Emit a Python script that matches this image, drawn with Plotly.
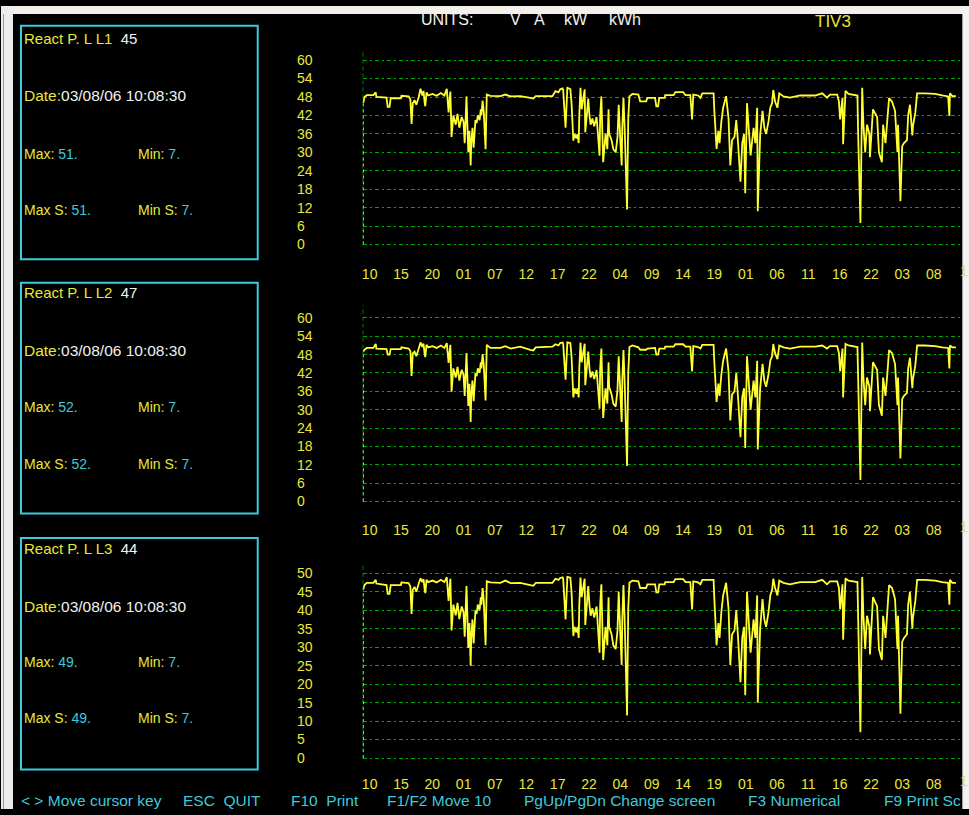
import plotly.graph_objects as go

W, H = 969, 815

# ---------------- data ----------------
time_h = [0.1, 0.3, 0.7, 1.8, 2.2, 2.3, 4.0, 4.2, 4.5, 4.7,
          6.4, 6.5, 7.7, 8.0, 8.2, 8.4, 8.7, 9.0, 9.4, 9.7,
          10.0, 10.2, 10.4, 10.5, 10.7, 11.0, 11.7, 12.4, 13.1, 13.7,
          14.1, 14.4, 14.7, 14.9, 15.2, 15.6, 15.9, 16.2, 16.6, 16.9,
          17.1, 17.2, 17.4, 17.6, 17.7, 17.9, 18.1, 18.2, 18.4, 18.6,
          18.7, 18.9, 19.1, 19.3, 19.6, 19.8, 19.9, 20.1, 20.3, 20.4,
          20.6, 20.8, 21.4, 23.1, 23.9, 24.8, 26.4, 28.1, 28.6, 29.0,
          31.8, 32.3, 32.8, 33.1, 33.5, 33.6, 34.0, 34.3, 34.8, 35.0,
          35.3, 35.5, 35.8, 36.0, 36.2, 36.3, 36.5, 36.7, 37.0, 37.2,
          37.3, 37.7, 37.8, 38.0, 38.2, 38.5, 38.8, 39.2, 39.5, 39.7,
          39.8, 40.0, 40.3, 40.5, 40.7, 41.0, 41.2, 41.3, 41.7, 42.0,
          42.4, 42.7, 42.9, 43.2, 43.4, 43.5, 43.7, 43.9, 44.0, 44.3,
          44.5, 44.7, 45.2, 46.2, 46.5, 47.5, 47.7, 49.0, 49.2, 49.5,
          49.7, 50.6, 50.7, 52.1, 52.4, 53.7, 54.1, 54.9, 55.2, 55.4,
          56.2, 56.6, 56.9, 58.8, 58.9, 59.3, 59.6, 59.8, 60.1, 60.4,
          60.9, 61.3, 61.6, 61.9, 62.3, 62.6, 62.9, 63.3, 63.6, 63.9,
          64.1, 64.4, 65.0, 65.5, 65.8, 66.1, 66.2, 66.6, 67.0, 67.3,
          67.6, 68.0, 68.3, 68.6, 68.8, 69.1, 69.5, 69.8, 70.5, 71.6,
          73.3, 75.8, 77.0, 77.8, 78.3, 79.5, 79.8, 80.0, 80.4, 80.5,
          80.9, 81.4, 82.9, 83.0, 83.4, 83.7, 83.9, 84.2, 84.5, 84.9,
          85.0, 85.5, 86.2, 86.5, 87.0, 87.2, 87.6, 87.9, 88.2, 88.7,
          89.2, 89.6, 89.7, 90.1, 90.4, 90.7, 91.2, 91.4, 91.7, 92.1,
          92.2, 92.6, 92.9, 94.2, 95.9, 97.1, 98.1, 98.3, 98.4, 98.8,
          99.4]

react_l1 = [46.0, 48.0, 48.6, 48.6, 49.5, 48.0, 47.8, 44.8, 44.8, 47.6,
            47.6, 48.4, 48.2, 47.2, 39.2, 46.0, 47.0, 45.5, 48.0, 50.7,
            48.5, 50.0, 46.0, 45.0, 49.5, 48.5, 49.0, 48.4, 49.3, 48.5,
            50.7, 43.0, 49.8, 35.0, 42.0, 39.0, 42.5, 38.0, 41.5, 40.0,
            33.0, 39.0, 48.2, 36.0, 30.0, 37.0, 25.7, 33.0, 38.0, 31.5,
            36.0, 40.5, 39.5, 42.0, 40.5, 44.0, 42.0, 46.8, 43.0, 38.0,
            31.0, 48.8, 48.4, 48.3, 48.8, 48.2, 48.3, 47.7, 47.5, 48.3,
            48.3, 49.9, 49.5, 50.5, 50.8, 50.3, 38.0, 51.0, 50.6, 46.0,
            33.8, 36.0, 34.5, 36.0, 33.0, 42.0, 51.0, 44.0, 47.5, 50.5,
            36.5, 44.0, 47.5, 42.0, 39.0, 41.0, 38.5, 41.5, 33.0, 28.9,
            42.0, 48.2, 26.8, 33.0, 36.0, 31.0, 44.0, 36.0, 34.0, 31.0,
            30.0, 35.0, 45.5, 33.0, 25.7, 38.0, 47.7, 38.0, 30.0, 11.4,
            41.0, 48.2, 49.0, 48.8, 46.6, 46.6, 47.7, 47.7, 45.0, 45.0,
            47.7, 47.7, 48.6, 48.6, 49.6, 49.6, 48.6, 48.6, 40.7, 48.8,
            48.5, 47.7, 49.2, 49.2, 44.5, 31.1, 37.0, 33.0, 40.0, 44.5,
            48.3, 41.0, 25.7, 34.0, 35.0, 40.5, 33.0, 20.4, 33.0, 36.0,
            16.7, 46.0, 29.0, 38.0, 33.0, 44.5, 10.8, 35.5, 43.5, 38.0,
            36.0, 40.0, 44.5, 46.0, 50.3, 46.5, 44.5, 49.2, 48.2, 47.8,
            48.5, 48.5, 49.2, 47.8, 48.8, 48.8, 46.5, 40.7, 47.7, 32.6,
            50.0, 49.0, 48.5, 37.5, 7.0, 51.0, 39.0, 30.0, 39.0, 36.0,
            28.4, 44.0, 41.5, 30.0, 26.8, 39.0, 33.0, 40.0, 47.7, 46.5,
            43.5, 30.0, 39.0, 14.1, 32.0, 33.0, 34.0, 42.0, 45.5, 35.5,
            38.5, 43.0, 49.2, 49.2, 49.0, 48.5, 48.2, 41.8, 49.2, 48.3,
            48.3]

react_l2 = [49.0, 49.6, 50.2, 50.2, 51.5, 50.0, 49.8, 48.0, 48.0, 49.8,
            49.8, 50.4, 50.0, 49.2, 41.0, 48.4, 49.0, 47.5, 50.0, 52.0,
            50.5, 51.6, 48.0, 47.2, 51.2, 50.4, 50.8, 50.2, 51.0, 50.2,
            51.8, 45.3, 51.2, 35.9, 43.5, 40.5, 44.0, 39.5, 43.0, 41.5,
            34.5, 40.5, 48.5, 37.5, 31.2, 38.5, 26.0, 34.5, 39.5, 32.8,
            37.5, 42.0, 41.0, 43.5, 42.0, 45.5, 43.5, 48.2, 44.5, 39.5,
            33.0, 51.2, 50.2, 50.2, 50.8, 50.0, 50.6, 49.6, 49.4, 50.4,
            50.6, 51.4, 51.0, 51.8, 52.0, 51.5, 39.8, 52.0, 51.8, 47.5,
            34.0, 37.0, 35.2, 37.0, 34.0, 43.5, 52.0, 45.5, 49.5, 51.6,
            38.0, 45.5, 49.0, 43.5, 40.5, 42.5, 40.0, 43.0, 34.0, 30.3,
            43.5, 50.0, 27.3, 34.0, 37.0, 32.0, 45.5, 37.5, 35.0, 32.0,
            31.0, 36.5, 47.5, 34.5, 26.0, 39.5, 49.5, 39.0, 31.0, 11.6,
            42.0, 50.5, 51.0, 50.4, 49.6, 49.6, 50.0, 50.2, 48.0, 48.0,
            50.0, 50.0, 50.6, 50.6, 51.4, 51.4, 50.6, 50.6, 42.5, 50.8,
            50.5, 50.0, 51.2, 51.2, 46.5, 32.5, 38.5, 34.5, 41.5, 46.0,
            50.0, 42.5, 26.5, 35.0, 36.0, 42.0, 34.0, 21.0, 34.0, 37.0,
            17.5, 47.5, 30.0, 39.5, 34.0, 46.0, 17.0, 37.0, 45.0, 39.5,
            37.5, 41.5, 46.0, 47.5, 51.5, 48.5, 46.5, 51.0, 50.4, 50.0,
            50.6, 50.6, 51.0, 50.0, 50.8, 50.8, 48.5, 42.5, 50.0, 34.0,
            51.5, 51.0, 50.5, 39.0, 7.0, 52.0, 40.5, 31.5, 40.5, 37.5,
            29.5, 45.5, 43.0, 31.5, 28.0, 40.5, 34.5, 41.5, 49.5, 48.5,
            45.0, 31.5, 40.5, 14.0, 33.5, 34.5, 35.5, 43.5, 47.0, 37.0,
            40.0, 44.5, 51.0, 51.0, 50.8, 50.4, 50.2, 43.5, 51.0, 50.4,
            50.4]

react_l3 = [45.5, 46.8, 47.4, 47.4, 48.2, 47.2, 46.8, 44.4, 44.4, 46.8,
            46.8, 47.5, 47.3, 46.4, 39.0, 45.5, 46.3, 45.0, 47.2, 48.6,
            47.6, 48.4, 45.5, 44.6, 48.2, 47.6, 48.0, 47.5, 48.2, 47.6,
            48.9, 42.5, 48.5, 34.5, 41.5, 38.6, 42.0, 37.6, 41.0, 39.5,
            32.8, 38.5, 46.5, 35.6, 29.8, 36.5, 25.0, 32.5, 37.5, 31.0,
            35.5, 40.0, 39.0, 41.5, 40.0, 43.5, 41.5, 46.0, 42.5, 37.5,
            30.5, 47.8, 47.5, 47.4, 48.0, 47.3, 47.4, 46.8, 46.6, 47.4,
            47.4, 48.5, 48.2, 48.7, 48.9, 48.5, 37.5, 49.0, 48.8, 45.0,
            33.0, 35.5, 34.0, 35.5, 32.5, 41.5, 48.8, 43.5, 46.5, 48.5,
            36.0, 43.5, 46.5, 41.5, 38.5, 40.5, 38.0, 41.0, 32.5, 28.5,
            41.5, 47.0, 26.5, 32.5, 35.5, 30.5, 43.5, 35.5, 33.5, 30.5,
            29.5, 34.5, 45.0, 32.5, 25.2, 37.5, 46.8, 37.5, 29.5, 11.5,
            40.5, 47.4, 48.0, 47.8, 46.0, 46.0, 47.0, 47.0, 44.8, 44.8,
            47.0, 47.0, 47.6, 47.6, 48.4, 48.4, 47.6, 47.6, 40.2, 47.8,
            47.5, 47.0, 48.2, 48.2, 44.0, 30.5, 36.5, 32.5, 39.5, 44.0,
            47.4, 40.5, 25.2, 33.5, 34.5, 40.0, 32.5, 20.5, 32.5, 35.5,
            17.0, 45.0, 28.5, 37.5, 32.5, 44.0, 15.0, 35.0, 43.0, 37.5,
            35.5, 39.5, 44.0, 45.5, 48.5, 46.0, 44.0, 48.0, 47.4, 47.0,
            47.6, 47.6, 48.2, 47.0, 47.8, 47.8, 46.0, 40.2, 47.0, 32.0,
            48.6, 48.0, 47.6, 37.0, 7.0, 49.0, 38.5, 29.5, 38.5, 35.5,
            28.0, 43.5, 41.0, 29.5, 26.5, 38.5, 32.5, 39.5, 46.8, 46.0,
            43.0, 29.5, 38.5, 12.0, 31.5, 32.5, 33.5, 41.5, 45.0, 35.0,
            38.0, 42.5, 48.2, 48.2, 48.0, 47.6, 47.4, 41.5, 48.2, 47.4,
            47.4]

x_tick_vals = [0, 5.25, 10.5, 15.75, 21, 26.25, 31.5, 36.75, 42, 47.25,
               52.5, 57.75, 63, 68.25, 73.5, 78.75, 84, 89.25, 94.5]
x_tick_text = ["10", "15", "20", "01", "07", "12", "17", "22", "04", "09",
               "14", "19", "01", "06", "11", "16", "22", "03", "08"]
# last label, cut by the screen edge in the original capture (only "1" visible)
x_last_tick = 99.75
x_last_text = "1"
y_ticks_l12 = [0, 6, 12, 18, 24, 30, 36, 42, 48, 54, 60]
y_ticks_l3 = [0, 5, 10, 15, 20, 25, 30, 35, 40, 45, 50]

panel_names = ["React P. L L1", "React P. L L2", "React P. L L3"]
panel_now = [45, 47, 44]
panel_max = [51, 52, 49]
panel_min = [7, 7, 7]
date_text = "03/08/06 10:08:30"
units = ["UNITS:", "V", "A", "kW", "kWh"]
series = [react_l1, react_l2, react_l3]
y_ticks = [y_ticks_l12, y_ticks_l12, y_ticks_l3]
y_ranges = [[-0.6, 60.6], [-0.6, 60.6], [-0.5, 50.5]]

# ---------------- style ----------------
BG = "#000000"
YEL = "#e8e83a"
LINE_YEL = "#ffff33"
CYAN = "#3ccbdc"
WHITE = "#f2f2f2"
GREEN = "#00a800"
FONT = "Liberation Sans, Arial, sans-serif"

def px(x):
    return x / W

def py(y):
    return 1 - y / H

# panel pixel geometry (top/bottom of y-domain in screen px)
y_dom_px = [(53.1, 243.9), (314.8, 504.6), (573.8, 765.2)]
axis_line_px = [(45, 243), (304, 504), (565, 764)]
x_label_y = [269, 529, 787]
x_standoff = [18, 17, 14]
x_left, x_right = 362, 959.5

fig = go.Figure()

for i in range(3):
    sfx = "" if i == 0 else str(i + 1)
    fig.add_trace(go.Scatter(
        x=[time_h[0], time_h[0]], y=[0, series[i][0]],
        mode="lines", line=dict(color="#ffffff", width=1, dash="dot"),
        xaxis="x" + sfx, yaxis="y" + sfx, hoverinfo="skip", showlegend=False))
    fig.add_trace(go.Scatter(
        x=time_h, y=series[i], mode="lines",
        line=dict(color=LINE_YEL, width=1.8),
        xaxis="x" + sfx, yaxis="y" + sfx, showlegend=False))

    top, bot = y_dom_px[i]
    common_x = dict(
        domain=[px(x_left), px(x_right)], range=[0, 100],
        tickmode="array", tickvals=x_tick_vals, ticktext=x_tick_text,
        showgrid=False, zeroline=False, showline=False, ticks="",
        tickfont=dict(color=YEL, size=14, family=FONT),
        ticklabelshift=7, ticklabelstandoff=x_standoff[i],
        anchor="y" + sfx)
    common_y = dict(
        domain=[py(bot), py(top)], range=y_ranges[i],
        tickmode="array", tickvals=y_ticks[i],
        ticktext=[(str(v) if v >= 10 else str(v) + "\u00a0\u00a0") for v in y_ticks[i]],
        showgrid=True, gridcolor=GREEN, gridwidth=1, griddash="4px,3px,2px,3px",
        zeroline=False, showline=False, ticks="",
        tickfont=dict(color=YEL, size=14, family=FONT),
        ticklabelstandoff=49,
        anchor="x" + sfx)
    fig.layout["xaxis" + sfx] = common_x
    fig.layout["yaxis" + sfx] = common_y

    fig.add_annotation(xref="x" + sfx, yref="paper", x=x_last_tick, y=py(x_label_y[i]),
                       xanchor="left", yanchor="middle", text=x_last_text,
                       showarrow=False, font=dict(size=14, color=YEL, family=FONT))

    a0, a1 = axis_line_px[i]
    fig.add_shape(type="line", xref="x" + sfx, yref="paper",
                  x0=0, x1=0, y0=py(a1), y1=py(a0),
                  line=dict(color=GREEN, width=1.5, dash="4px,3px"))

# info boxes
box_px = [(20, 257), (281, 515), (540, 775)]
row_px = [(33, 91, 150, 207), (291, 350, 407, 465), (551, 609, 666, 723)]
for i in range(3):
    t, b = box_px[i]
    fig.add_shape(type="rect", xref="paper", yref="paper",
                  x0=px(20), x1=px(257), y0=py(b), y1=py(t),
                  line=dict(color=CYAN, width=2), fillcolor="rgba(0,0,0,0)")
    r0, r1, r2, r3 = row_px[i]
    items = [
        (21, r0, 15, f"<span style='color:{YEL}'>{panel_names[i]}</span>\u00a0\u00a0<span style='color:{WHITE}'>{panel_now[i]}</span>"),
        (21, r1, 15.5, f"<span style='color:{YEL}'>Date:</span><span style='color:{WHITE}'>{date_text}</span>"),
        (21, r2, 14, f"<span style='color:{YEL}'>Max:</span> <span style='color:{CYAN}'>{panel_max[i]}.</span>"),
        (135, r2, 14, f"<span style='color:{YEL}'>Min:</span> <span style='color:{CYAN}'>{panel_min[i]}.</span>"),
        (21, r3, 14, f"<span style='color:{YEL}'>Max S:</span> <span style='color:{CYAN}'>{panel_max[i]}.</span>"),
        (135, r3, 14, f"<span style='color:{YEL}'>Min S:</span> <span style='color:{CYAN}'>{panel_min[i]}.</span>"),
    ]
    for (x, y, fs, txt) in items:
        fig.add_annotation(xref="paper", yref="paper", x=px(x), y=py(y),
                           xanchor="left", yanchor="middle", text=txt,
                           showarrow=False, font=dict(size=fs, family=FONT))

# header
units_x = [418, 508, 532, 562, 607]
for ux, ut in zip(units_x, units):
    fig.add_annotation(xref="paper", yref="paper", x=px(ux), y=py(14),
                       xanchor="left", yanchor="middle", text=ut,
                       showarrow=False, font=dict(size=16, color=WHITE, family=FONT))
fig.add_annotation(xref="paper", yref="paper", x=px(813), y=py(16),
                   xanchor="left", yanchor="middle", text="TIV3",
                   showarrow=False, font=dict(size=17, color=YEL, family=FONT))

# status bar
status = [(18, "< > Move cursor key"), (180, "ESC\u00a0 QUIT"), (288, "F10\u00a0 Print"),
          (384, "F1/F2 Move 10"), (522, "PgUp/PgDn Change screen"),
          (746, "F3 Numerical"), (882, "F9 Print Sc")]
for x, txt in status:
    fig.add_annotation(xref="paper", yref="paper", x=px(x), y=py(806),
                       xanchor="left", yanchor="middle", text=txt,
                       showarrow=False, font=dict(size=15.5, color=CYAN, family=FONT))

# screenshot frame (light borders)
frame = [
    (0, 0, W, 8, "#f3f0ea"),
    (0, 0, 12, H, "#ececec"),
    (2, 8, 3, H, "#9a9a9a"),
    (963, 0, W, H, "#f2f2f2"),
    (962, 8, 963, H, "#a0a0a0"),
]
for x0, y0, x1, y1, c in frame:
    fig.add_shape(type="rect", xref="paper", yref="paper", layer="above",
                  x0=px(x0), x1=px(x1), y0=py(y1), y1=py(y0),
                  line=dict(width=0), fillcolor=c)

fig.update_layout(
    width=W, height=H,
    margin=dict(l=0, r=0, t=0, b=0),
    paper_bgcolor=BG, plot_bgcolor=BG,
    showlegend=False, hovermode=False,
)

fig.write_html("out.html", config={"displayModeBar": False},
               post_script="document.body.style.margin='0';document.body.style.overflow='hidden';")
